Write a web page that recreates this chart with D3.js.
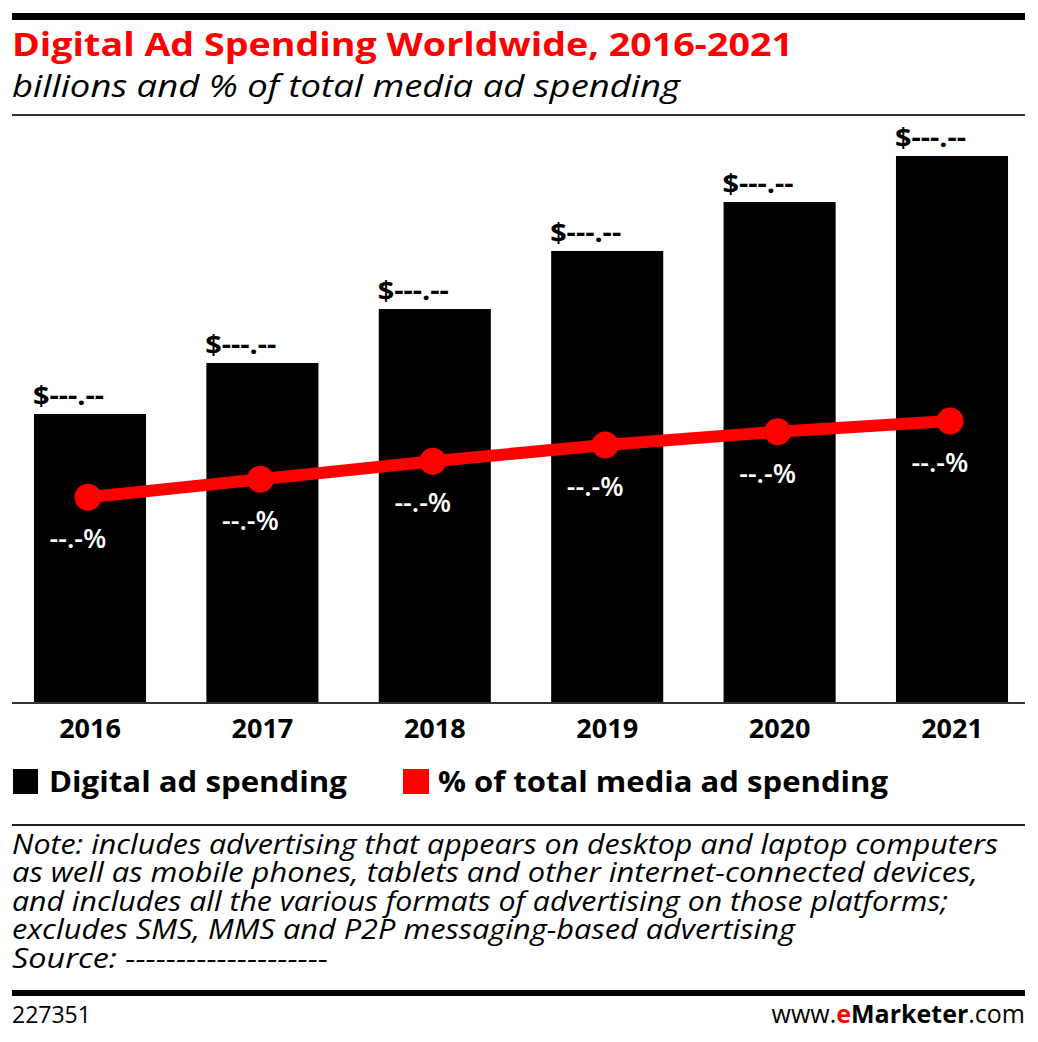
<!DOCTYPE html>
<html><head><meta charset="utf-8">
<script src="https://cdn.jsdelivr.net/npm/d3@7/dist/d3.min.js"></script>
<style>body{margin:0;background:#fff}svg{display:block}</style>
</head><body>
<script>
const years = ["2016","2017","2018","2019","2020","2021"];
const spending = [196.6, 231.3, 268.0, 307.5, 340.8, 372.1];
const pctShare = [34.3, 37.3, 40.3, 43.0, 45.2, 47.0];
const spendLabels = ["$---.--","$---.--","$---.--","$---.--","$---.--","$---.--"];
const pctLabels = ["--.-%","--.-%","--.-%","--.-%","--.-%","--.-%"];
const noteLines = [
  "Note: includes advertising that appears on desktop and laptop computers",
  "as well as mobile phones, tablets and other internet-connected devices,",
  "and includes all the various formats of advertising on those platforms;",
  "excludes SMS, MMS and P2P messaging-based advertising",
  "Source: --------------------"
];
const noteWidths = [986, 966, 936, 783, 316];

const W = 1038, H = 1042;
const svg = d3.select("body").append("svg").attr("width", W).attr("height", H);
const F = "'Open Sans', sans-serif";

// header
svg.append("rect").attr("x",12).attr("y",13).attr("width",1013).attr("height",7).attr("fill","#000");
svg.append("text").attr("x",12).attr("y",56).attr("font-family",F).attr("font-weight",700)
  .attr("font-size",32).attr("fill","#f00").attr("textLength",781).attr("lengthAdjust","spacingAndGlyphs")
  .text("Digital Ad Spending Worldwide, 2016-2021");
svg.append("text").attr("x",12).attr("y",97).attr("font-family",F).attr("font-style","italic")
  .attr("font-size",31).attr("fill","#000").attr("textLength",668).attr("lengthAdjust","spacingAndGlyphs")
  .text("billions and % of total media ad spending");
svg.append("rect").attr("x",12).attr("y",114).attr("width",1013).attr("height",2).attr("fill","#333");

// scales
const x = d3.scaleBand().domain(years).range([3.8, 1038.2]).paddingInner(0.35).paddingOuter(0.175);
const y = d3.scaleLinear().domain([0, 400]).range([703, 115]);
const yp = d3.scaleLinear().domain([0, 100]).range([703, 103]);

// bars
svg.append("g").selectAll("rect").data(years).join("rect")
  .attr("x", d => x(d)).attr("width", x.bandwidth())
  .attr("y", (d,i) => y(spending[i])).attr("height", (d,i) => y(0) - y(spending[i]))
  .attr("fill", "#000");

// baseline axis
const axis = svg.append("g").attr("transform","translate(0,703)")
  .call(d3.axisBottom(x).tickSize(0).tickPadding(0));
axis.select(".domain").remove();
axis.selectAll("text").attr("font-family",F).attr("font-weight",700).attr("font-size",27)
  .attr("fill","#000").attr("dy",null).attr("y",35);
svg.append("rect").attr("x",12).attr("y",702).attr("width",1013).attr("height",2).attr("fill","#333");

// bar labels
svg.append("g").selectAll("text").data(years).join("text")
  .attr("x", d => x(d) - 1).attr("y", (d,i) => y(spending[i]) - 9)
  .attr("font-family",F).attr("font-weight",700).attr("font-size",27).attr("fill","#000")
  .attr("textLength",71).attr("lengthAdjust","spacingAndGlyphs")
  .text((d,i) => spendLabels[i]);

// line
const cx = d => x(d) + x.bandwidth()/2 - 2;
const line = d3.line().x((d,i) => cx(years[i])).y(d => yp(d));
svg.append("path").datum(pctShare).attr("d", line).attr("fill","none")
  .attr("stroke","#f00").attr("stroke-width",12);
svg.append("g").selectAll("circle").data(pctShare).join("circle")
  .attr("cx",(d,i) => cx(years[i])).attr("cy", d => yp(d)).attr("r",13.5).attr("fill","#f00");
svg.append("g").selectAll("text").data(pctShare).join("text")
  .attr("x",(d,i) => cx(years[i]) - 10).attr("y", d => yp(d) + 51)
  .attr("text-anchor","middle").attr("font-family",F).attr("font-weight",600).attr("font-size",27).attr("fill","#fff")
  .text((d,i) => pctLabels[i]);

// legend
svg.append("rect").attr("x",13).attr("y",769).attr("width",25).attr("height",25).attr("fill","#000");
svg.append("text").attr("x",49).attr("y",792).attr("font-family",F).attr("font-weight",700)
  .attr("font-size",29).attr("fill","#000").attr("textLength",298).attr("lengthAdjust","spacingAndGlyphs")
  .text("Digital ad spending");
svg.append("rect").attr("x",403).attr("y",769).attr("width",26).attr("height",25).attr("fill","#f00");
svg.append("text").attr("x",438).attr("y",792).attr("font-family",F).attr("font-weight",700)
  .attr("font-size",29).attr("fill","#000").attr("textLength",450).attr("lengthAdjust","spacingAndGlyphs")
  .text("% of total media ad spending");

// note
svg.append("rect").attr("x",12).attr("y",824).attr("width",1013).attr("height",2).attr("fill","#222");
const note = svg.append("text").attr("font-family",F).attr("font-style","italic")
  .attr("font-size",26.5).attr("fill","#000");
note.selectAll("tspan").data(noteLines).join("tspan")
  .attr("x",12).attr("y",(d,i) => 854 + i*28.4)
  .attr("textLength",(d,i) => noteWidths[i]).attr("lengthAdjust","spacingAndGlyphs")
  .text(d => d);

// footer
svg.append("rect").attr("x",12).attr("y",990).attr("width",1013).attr("height",6).attr("fill","#000");
svg.append("text").attr("x",12).attr("y",1023).attr("font-family",F).attr("font-size",23).attr("fill","#000").text("227351");
const ft = svg.append("text").attr("x",1025).attr("y",1023).attr("text-anchor","end")
  .attr("font-family",F).attr("font-size",25).attr("fill","#000");
ft.append("tspan").text("www.");
ft.append("tspan").attr("fill","#f00").attr("font-weight",700).text("e");
ft.append("tspan").attr("font-weight",700).text("Marketer");
ft.append("tspan").text(".com");
</script>
</body></html>
